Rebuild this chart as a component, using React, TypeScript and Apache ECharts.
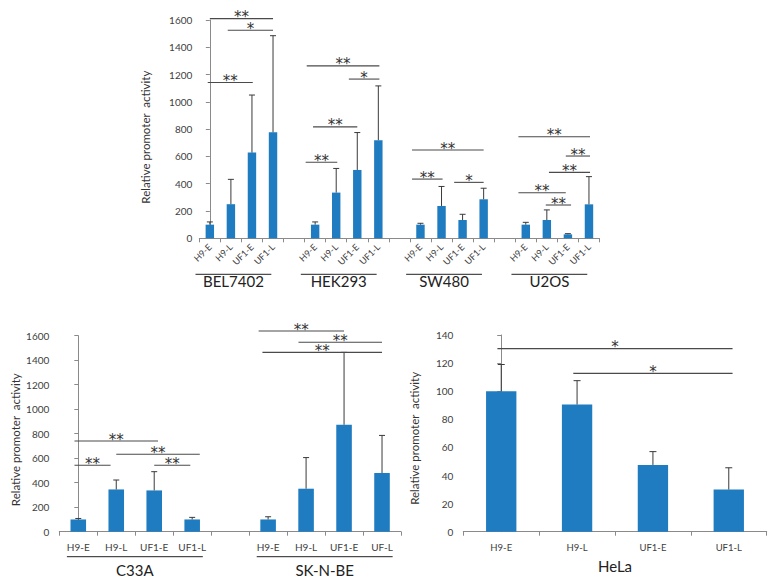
import React, { useEffect, useRef } from "react";
import * as echarts from "echarts";

// ---------- Top panel ----------
const topCategories = [
  "H9-E", "H9-L", "UF1-E", "UF1-L", "",
  "H9-E", "H9-L", "UF1-E", "UF1-L", "",
  "H9-E", "H9-L", "UF1-E", "UF1-L", "",
  "H9-E", "H9-L", "UF1-E", "UF1-L",
];
const topValues: (number | null)[] = [
  100, 250, 628, 777, null,
  100, 335, 501, 719, null,
  100, 237, 134, 286, null,
  100, 134, 29, 249,
];
const topErrHigh: (number | null)[] = [
  120, 432, 1050, 1485, null,
  120, 512, 775, 1117, null,
  110, 380, 176, 367, null,
  117, 208, 34, 452,
];
const topGroupNames = ["BEL7402", "HEK293", "SW480", "U2OS"];
const topGroupFirst = [0, 5, 10, 15];
const topGroupLast = [3, 8, 13, 18];
// significance: [fromIndex, toIndex, yValue, label]
const topSig: [number, number, number, string][] = [
  [0, 3, 1610, "**"],
  [0.85, 3, 1525, "*"],
  [-0.1, 2.04, 1142, "**"],
  [4.6, 8.05, 1264, "**"],
  [6.6, 8.05, 1167, "*"],
  [4.9, 7, 817, "**"],
  [4.55, 6.05, 557, "**"],
  [9.6, 13, 647, "**"],
  [9.6, 11.05, 434, "**"],
  [11.6, 13, 410, "*"],
  [14.65, 18.05, 744, "**"],
  [16.9, 18.05, 603, "**"],
  [16.1, 18.05, 483, "**"],
  [14.65, 16.9, 334, "**"],
  [15.95, 17.15, 244, "**"],
];

// ---------- Bottom-left panel ----------
const blCategories = [
  "H9-E", "H9-L", "UF1-E", "UF1-L", "",
  "H9-E", "H9-L", "UF1-E", "UF-L",
];
const blValues: (number | null)[] = [100, 345, 337, 100, null, 100, 351, 873, 479];
const blErrHigh: (number | null)[] = [108, 422, 490, 117, null, 122, 605, 1464, 786];
const blGroupNames = ["C33A", "SK-N-BE"];
const blGroupFirst = [0, 5];
const blGroupLast = [3, 8];
const blSig: [number, number, number, string][] = [
  [-0.1, 2.1, 740, "**"],
  [1, 3.2, 632, "**"],
  [-0.1, 0.85, 542, "**"],
  [2, 2.95, 542, "**"],
  [4.75, 7, 1638, "**"],
  [5.8, 8, 1546, "**"],
  [4.85, 8, 1464, "**"],
];

// ---------- Bottom-right panel (HeLa) ----------
const helaCategories = ["H9-E", "H9-L", "UF1-E", "UF1-L"];
const helaValues = [100, 90.5, 47.5, 30];
const helaErrHigh = [119, 107.5, 57, 45.5];
const helaSig: [number, number, number, string][] = [
  [-0.05, 3.05, 130.3, "*"],
  [0.95, 3.05, 112.7, "*"],
];

const FONT = "Lato, 'Open Sans', sans-serif";
const BAR = "#207CC0";
const AXIS = "#8a8a8a";
const TXT = "#404040";

function errSeries(xi: number, yi: number, vals: (number | null)[], highs: (number | null)[], cap: number) {
  const data: any[] = [];
  vals.forEach((v, i) => {
    if (v != null && highs[i] != null) data.push([i, v, highs[i]]);
  });
  return {
    type: "custom",
    xAxisIndex: xi,
    yAxisIndex: yi,
    clip: false,
    encode: { x: 0, y: [1, 2] },
    data,
    z: 5,
    renderItem: (params: any, api: any) => {
      const p1 = api.coord([api.value(0), api.value(1)]);
      const p2 = api.coord([api.value(0), api.value(2)]);
      return {
        type: "group",
        children: [
          { type: "line", shape: { x1: p1[0], y1: p1[1], x2: p2[0], y2: p2[1] }, style: { stroke: "#3a3a3a", lineWidth: 1 } },
          { type: "line", shape: { x1: p2[0] - cap / 2, y1: p2[1], x2: p2[0] + cap / 2, y2: p2[1] }, style: { stroke: "#3a3a3a", lineWidth: 1 } },
        ],
      };
    },
  };
}

function sigSeries(xi: number, yi: number, sig: [number, number, number, string][]) {
  return {
    type: "custom",
    xAxisIndex: xi,
    yAxisIndex: yi,
    clip: false,
    encode: { x: [0, 1], y: 2 },
    data: sig.map((s) => [s[0], s[1], s[2]]),
    z: 6,
    renderItem: (params: any, api: any) => {
      const a = api.coord([api.value(0), api.value(2)]);
      const b = api.coord([api.value(1), api.value(2)]);
      const label = sig[params.dataIndex][3];
      return {
        type: "group",
        children: [
          { type: "line", shape: { x1: a[0], y1: a[1], x2: b[0], y2: b[1] }, style: { stroke: "#4a4a4a", lineWidth: 1.1 } },
          {
            type: "text",
            style: {
              text: label,
              x: (a[0] + b[0]) / 2,
              y: a[1] - 1.5,
              align: "center",
              verticalAlign: "middle",
              fontSize: 15,
              lineHeight: 9,
              fontFamily: "'DejaVu Sans', sans-serif",
              fill: "#333",
            },
          },
        ],
      };
    },
  };
}

function groupSeries(
  xi: number, yi: number, names: string[], first: number[], last: number[],
  startOff: number, endOff: number, lineDy: number, textDy: number,
) {
  return {
    type: "custom",
    xAxisIndex: xi,
    yAxisIndex: yi,
    clip: false,
    encode: { x: [0, 1] },
    data: names.map((_, i) => [first[i] + startOff, last[i] + endOff]),
    z: 6,
    renderItem: (params: any, api: any) => {
      const a = api.coord([api.value(0), 0]);
      const b = api.coord([api.value(1), 0]);
      const y = a[1] + lineDy;
      return {
        type: "group",
        children: [
          { type: "line", shape: { x1: a[0], y1: y, x2: b[0], y2: y }, style: { stroke: "#222", lineWidth: 1 } },
          {
            type: "text",
            style: {
              text: names[params.dataIndex],
              x: (a[0] + b[0]) / 2,
              y: a[1] + textDy,
              align: "center",
              verticalAlign: "middle",
              fontSize: 15,
              fontFamily: FONT,
              fill: "#222",
            },
          },
        ],
      };
    },
  };
}

const yAxisBase = (gridIndex: number, max: number, interval: number, nameGap: number, labelMargin: number, shift: number) => ({
  type: "value",
  gridIndex,
  min: 0,
  max,
  interval,
  name: "Relative promoter  activity",
  nameLocation: "middle",
  nameGap,
  nameRotate: 90,
  nameTextStyle: { fontSize: 11.5, fontFamily: FONT, color: "#333", padding: [0, shift * 2, 0, 0] },
  axisLine: { show: true, lineStyle: { color: AXIS, width: 1 } },
  axisTick: { show: true, length: 4, lineStyle: { color: AXIS } },
  splitLine: { show: false },
  axisLabel: { fontSize: 10, fontFamily: FONT, color: TXT, margin: labelMargin, formatter: (v: number) => String(v) },
});

const catAxis = (gridIndex: number, data: string[], rotate: number, fontSize: number, margin: number, extra: any = {}) => ({
  type: "category",
  gridIndex,
  data,
  axisLine: { show: true, lineStyle: { color: AXIS, width: 1 } },
  axisTick: { show: true, length: 4, interval: 0, lineStyle: { color: AXIS } },
  axisLabel: { interval: 0, rotate, fontSize, fontFamily: FONT, color: TXT, margin },
  ...extra,
});

const hiddenVal = (gridIndex: number, n: number) => ({
  type: "value",
  gridIndex,
  min: -0.5,
  max: n - 0.5,
  show: false,
  splitLine: { show: false },
});

export default function App() {
  const ref = useRef<HTMLDivElement>(null);
  useEffect(() => {
    if (!ref.current) return;
    const chart = echarts.init(ref.current, undefined, { renderer: "svg" });
    const option: any = {
      animation: false,
      backgroundColor: "#ffffff",
      textStyle: { fontFamily: FONT },
      grid: [
        { left: 199.3, top: 20, width: 400.2, height: 218.3 },
        { left: 59.3, top: 335.7, width: 341.7, height: 196 },
        { left: 463.3, top: 335, width: 303.4, height: 196.7 },
      ],
      xAxis: [
        catAxis(0, topCategories, 45, 9, 7),
        hiddenVal(0, topCategories.length),
        catAxis(1, blCategories, 0, 10, 10),
        hiddenVal(1, blCategories.length),
        catAxis(2, helaCategories, 0, 9.5, 11, {
          name: "HeLa",
          nameLocation: "middle",
          nameGap: 27,
          nameTextStyle: { fontSize: 15, fontFamily: FONT, color: "#222" },
        }),
        hiddenVal(2, helaCategories.length),
      ],
      yAxis: [
        yAxisBase(0, 1600, 200, 48, 7, 8),
        yAxisBase(1, 1600, 200, 38, 10, 6),
        yAxisBase(2, 140, 20, 43, 10, 5),
      ],
      series: [
        { type: "bar", xAxisIndex: 0, yAxisIndex: 0, data: topValues.map((v) => (v == null ? "-" : v)), barWidth: "40%", itemStyle: { color: BAR } },
        errSeries(0, 0, topValues, topErrHigh, 6),
        sigSeries(1, 0, topSig),
        groupSeries(1, 0, topGroupNames, topGroupFirst, topGroupLast, -0.68, -0.08, 36, 43),

        { type: "bar", xAxisIndex: 2, yAxisIndex: 1, data: blValues.map((v) => (v == null ? "-" : v)), barWidth: "41%", itemStyle: { color: BAR } },
        errSeries(2, 1, blValues, blErrHigh, 6),
        sigSeries(3, 1, blSig),
        groupSeries(3, 1, blGroupNames, blGroupFirst, blGroupLast, -0.3, 0.28, 25, 38.5),

        { type: "bar", xAxisIndex: 4, yAxisIndex: 2, data: helaValues, barWidth: "40%", itemStyle: { color: BAR } },
        errSeries(4, 2, helaValues, helaErrHigh, 7),
        sigSeries(5, 2, helaSig),
      ],
    };
    chart.setOption(option);
    return () => chart.dispose();
  }, []);
  return <div ref={ref} style={{ position: "absolute", left: 0, top: 0, width: 774, height: 584 }} />;
}
